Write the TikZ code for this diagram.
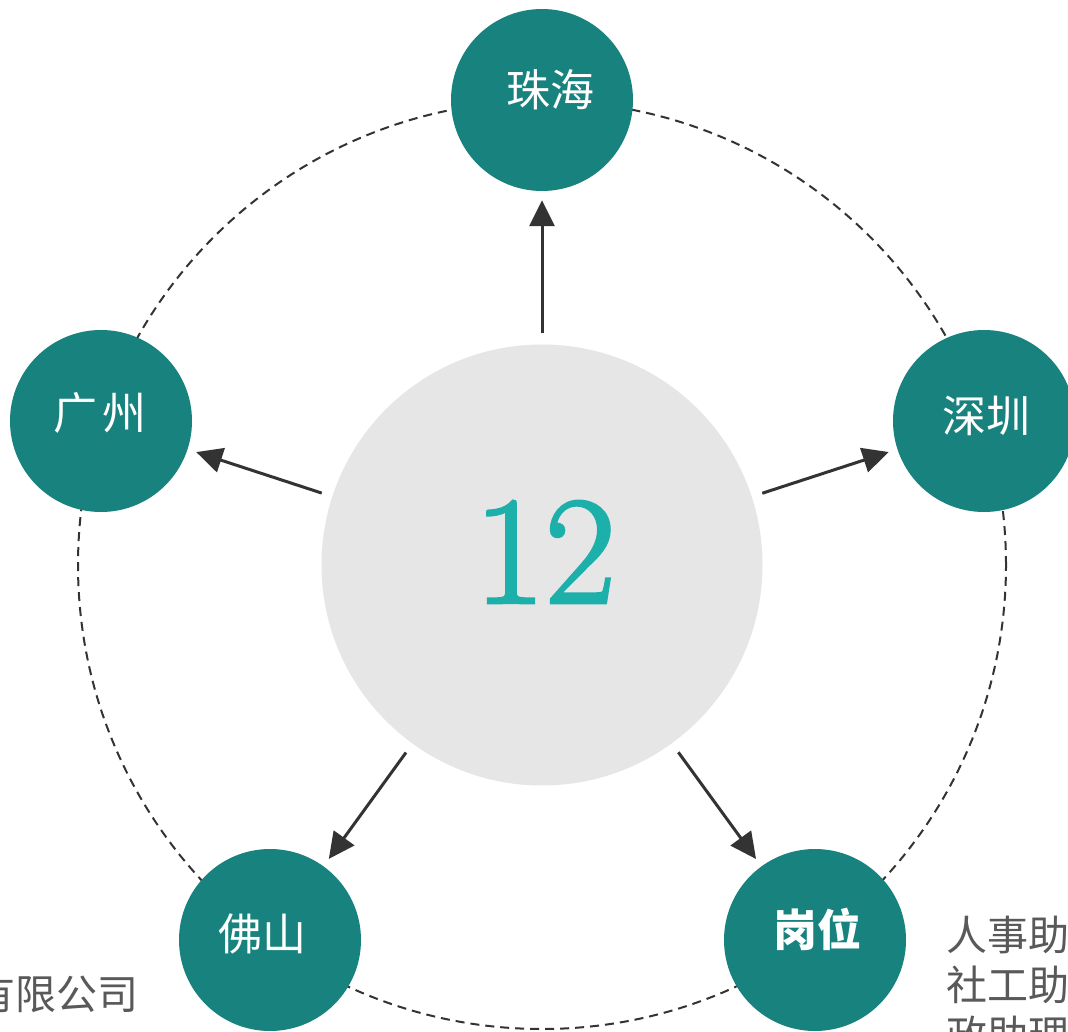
\documentclass[tikz,border=0pt]{standalone}
\usepackage{fontspec}
\newfontfamily\cjk{Noto Sans CJK SC}
\newfontfamily\numfont[FakeBold=2]{Latin Modern Roman}
\usetikzlibrary{arrows.meta}
\definecolor{teal1}{HTML}{17827E}
\definecolor{grayc}{HTML}{E6E6E6}
\definecolor{numc}{HTML}{1DAFAA}
\definecolor{dark}{HTML}{333333}
\definecolor{txtg}{HTML}{595959}
\tikzset{
  city/.style={circle, fill=teal1, minimum size=182pt, inner sep=0pt},
  citylbl/.style={text=white, inner sep=0pt, font=\cjk\fontsize{44}{50}\selectfont},
  hub/.style={circle, fill=grayc, minimum size=441pt, inner sep=0pt},
  conn/.style={draw=dark, line width=3pt, -{Triangle[length=26pt,width=25pt]}, shorten <=11pt, shorten >=9pt},
  ring/.style={draw=dark, line width=2pt, dash pattern=on 9pt off 6pt},
  side/.style={text=txtg, inner sep=0pt, font=\cjk\fontsize{41}{50}\selectfont},
}
\begin{document}
\begin{tikzpicture}[x=1pt, y=-1pt]
\clip (0,0) rectangle (1068,1032);
\fill[white] (0,0) rectangle (1068,1032);
\coordinate (o) at (542,565);
\draw[ring] (o) circle[radius=464pt];
\node[hub] (c) at (542,565) {};
\node[city] (zh) at (542,100) {};
\node[city] (gz) at (101,421) {};
\node[city] (sz) at (984,421) {};
\node[city] (fs) at (270,940) {};
\node[city] (gw) at (815,940) {};
\node[citylbl] (lzh) at ([shift={(8,-10)}]zh.center) {珠海};
\node[citylbl] (lgz) at ([shift={(-1,-8)}]gz.center) {广\hspace{6pt}州};
\node[citylbl] (lsz) at ([shift={(2,-5)}]sz.center) {深圳};
\node[citylbl] (lfs) at ([shift={(-8,-6)}]fs.center) {佛山};
\node[citylbl, font=\cjk\bfseries\fontsize{44}{50}\selectfont] (lgw) at ([shift={(2,-11)}]gw.center) {岗位};
\node[text=numc, inner sep=0pt, font=\numfont\fontsize{154}{160}\selectfont] (num) at (545,552) {12};
\draw[conn] (c) -- (zh);
\draw[conn] (c) -- (gz);
\draw[conn] (c) -- (sz);
\draw[conn] (c) -- (fs);
\draw[conn] (c) -- (gw);
\node[side, anchor=base east] (lt) at (139,1009) {有限公司};
\node[side, anchor=base west] (r1) at (946,950) {人事助};
\node[side, anchor=base west] (r2) at (946,1000) {社工助};
\node[side, anchor=base west] (r3) at (946,1050) {政助理};
\end{tikzpicture}
\end{document}
